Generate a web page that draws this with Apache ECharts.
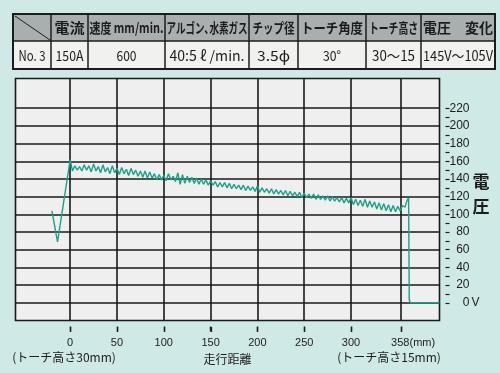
<!DOCTYPE html>
<html><head><meta charset="utf-8">
<script src="https://cdn.jsdelivr.net/npm/echarts@6/dist/echarts.min.js"></script>
<style>html,body{margin:0;padding:0;background:#cfe9e6;}#c{width:500px;height:373px;}</style>
</head><body><div id="c"></div>
<script>
// ---- data ----
const headerLabels = ['', '電流', '速度 mm/min.', 'アルゴン､水素ガス', 'チップ径', 'トーチ角度', 'トーチ高さ', '電圧　変化'];
const rowLabels = ['No. 3', '150A', '600', '40:5 ℓ /min.', '3.5ϕ', '30°', '30〜15', '145V〜105V'];
const xTickValues = [0, 50, 100, 150, 200, 250, 300, 353.5];
const xTickLabels = ['0', '50', '100', '150', '200', '250', '300', '358'];
const yLabelValues = [0, 20, 40, 60, 80, 100, 120, 140, 160, 180, 200, 220];
const yTickValues = [0, 10, 20, 30, 40, 50, 60, 70, 80, 90, 100, 110, 120, 130, 140, 150, 160, 170, 180, 190, 200, 210, 220];
const xAxisName = '走行距離';
const xStartNote = '(トーチ高さ30mm)';
const xEndNote = '(トーチ高さ15mm)';
const yAxisTitle = '電\n圧';
const voltageTrace = [
[-19.5,104],[-13.5,69],[0,162],
[2.5,149],[5,155],[7.5,150],[10,154],[12.5,149],[15,156],[17.5,150],[20,155],[22.5,148],[25,157],[27.5,149],[30,154],[32.5,147],[35,156],[37.5,148],[40,153],[42.5,146],[45,155],[47.5,147],
[50,152],[52.5,145],[55,153],[57.5,146],[60,151],[62.5,144],[65,152],[67.5,145],[70,150],[72.5,143],[75,149],[77.5,142],[80,149],[82.5,141],[85,148],[87.5,141],[90,146],[92.5,139],[95,145],[97.5,139],
[100,144],[102.5,138],[105,146],[107.5,139],[110,143],[112.5,137],[115,147],[117.5,134],[120,145],[122.5,135],[125,143],[127.5,136],[130,142],[132.5,135],[135,141],[137.5,134],[140,140],[142.5,134],[145,139],[147.5,133],
[150,138],[152.5,133],[155,137],[157.5,131],[160,136],[162.5,131],[165,136],[167.5,130],[170,135],[172.5,129],[175,134],[177.5,129],[180,133],[182.5,128],[185,133],[187.5,127],[190,132],[192.5,127],[195,131],[197.5,126],
[200,132],[202.5,125],[205,130],[207.5,125],[210,129],[212.5,124],[215,129],[217.5,123],[220,128],[222.5,123],[225,127],[227.5,122],[230,127],[232.5,121],[235,126],[237.5,121],[240,125],[242.5,120],[245,125],[247.5,119],
[250,124],[252.5,119],[255,123],[257.5,118],[260,123],[262.5,117],[265,122],[267.5,117],[270,121],[272.5,116],[275,121],[277.5,115],[280,120],[282.5,115],[285,119],[287.5,114],[290,119],[292.5,113],[295,118],[297.5,113],
[300,119],[302.5,111],[305,117],[307.5,110],[310,116],[312.5,109],[315,117],[317.5,108],[320,115],[322.5,108],[325,114],[327.5,106],[330,113],[332.5,105],[335,112],[337.5,104],[340,111],[342.5,103],[345,110],[347.5,103],[350,109],[352.5,104],[355,110],[357.5,108],[360,116],[361.5,119],
[362.2,3],[363.5,0],[394.5,0]
];

// ---- layout ----
const X_MIN = -58.4, X_MAX = 394.5, Y_MIN = -20, Y_MAX = 253.6;
const colEdges = [13, 51, 88, 165, 249, 298, 366, 421, 495];
const rowEdges = [14, 41, 69];
const headerWidths = [0, 30, 74, 81, 42, 62, 49, 70];
const rowWidths = [27, 28, 20, 75, 33, 18, 43, 70];
const CJK = '"Noto Sans CJK JP", "Noto Sans", sans-serif';
const ink = '#1c1c1c';

const measureCtx = document.createElement('canvas').getContext('2d');
function fitScale(text, font, target) {
  measureCtx.font = font;
  const w = measureCtx.measureText(text).width;
  return w > 0 ? Math.min(1.15, target / w) : 1;
}

const graphics = [];
graphics.push({type:'rect', shape:{x:colEdges[0], y:rowEdges[0], width:colEdges[8]-colEdges[0], height:rowEdges[1]-rowEdges[0]}, style:{fill:'#a9aeae'}});
graphics.push({type:'rect', shape:{x:colEdges[0], y:rowEdges[1], width:colEdges[8]-colEdges[0], height:rowEdges[2]-rowEdges[1]}, style:{fill:'#f1f2f0'}});
for (let i = 1; i < colEdges.length - 1; i++) {
  graphics.push({type:'line', shape:{x1:colEdges[i], y1:rowEdges[0], x2:colEdges[i], y2:rowEdges[2]}, style:{stroke:ink, lineWidth:1.5}});
}
graphics.push({type:'line', shape:{x1:colEdges[0], y1:rowEdges[1], x2:colEdges[8], y2:rowEdges[1]}, style:{stroke:ink, lineWidth:1.5}});
graphics.push({type:'line', shape:{x1:colEdges[0]+2, y1:rowEdges[0]+2, x2:colEdges[1]-1, y2:rowEdges[1]-1}, style:{stroke:ink, lineWidth:1}});
graphics.push({type:'rect', shape:{x:colEdges[0], y:rowEdges[0], width:colEdges[8]-colEdges[0], height:rowEdges[2]-rowEdges[0]}, style:{fill:null, stroke:ink, lineWidth:2}});
const headFont = 'bold 14px ' + CJK, rowFont = '14px ' + CJK;
for (let i = 0; i < headerLabels.length; i++) {
  const cx = (colEdges[i] + colEdges[i+1]) / 2;
  if (headerLabels[i]) graphics.push({type:'text', x:cx, y:(rowEdges[0]+rowEdges[1])/2+0.5, scaleX:fitScale(headerLabels[i], headFont, headerWidths[i]),
    style:{text:headerLabels[i], x:0, y:0, align:'center', verticalAlign:'middle', font:headFont, fill:ink}});
  graphics.push({type:'text', x:cx, y:(rowEdges[1]+rowEdges[2])/2+0.5, scaleX:fitScale(rowLabels[i], rowFont, rowWidths[i]),
    style:{text:rowLabels[i], x:0, y:0, align:'center', verticalAlign:'middle', font:rowFont, fill:ink}});
}
graphics.push({type:'text', x:64, y:357, style:{text:xStartNote, align:'center', verticalAlign:'middle', font:'12px ' + CJK, fill:ink}});
graphics.push({type:'text', x:389, y:357, style:{text:xEndNote, align:'center', verticalAlign:'middle', font:'12px ' + CJK, fill:ink}});
graphics.push({type:'text', x:481, y:194, style:{text:yAxisTitle, align:'center', verticalAlign:'middle', lineHeight:25, font:'bold 17px ' + CJK, fill:ink}});

const gridLineStyle = {type:'solid', color:'#1a1a1a', width:1.6};
const markData = xTickValues.map(v => ({xAxis:v})).concat(yLabelValues.map(v => ({yAxis:v})));

const chart = echarts.init(document.getElementById('c'), null, {renderer:'canvas'});
chart.setOption({
  animation:false,
  backgroundColor:'#cfe9e6',
  grid:{left:15.5, right:60.5, top:78.5, bottom:52.5, show:true, backgroundColor:'#efefef', borderColor:'#1a1a1a', borderWidth:1.6},
  xAxis:{type:'value', min:X_MIN, max:X_MAX, offset:6, position:'bottom',
    axisLine:{show:false, onZero:false}, splitLine:{show:false},
    axisTick:{show:true, length:5, customValues:xTickValues, lineStyle:{color:ink, width:1.4}},
    axisLabel:{customValues:xTickValues, margin:11, fontFamily:'Liberation Sans', fontSize:11, color:ink,
      formatter:v => { const i = xTickValues.indexOf(v); if (i < 0) return ''; return i === xTickValues.length-1 ? '{s|}' + xTickLabels[i] + '{u|(mm)}' : xTickLabels[i]; },
      rich:{s:{width:24}, u:{fontFamily:'Liberation Sans', fontSize:11, color:ink}}},
    name:xAxisName, nameLocation:'middle', nameGap:24.5, nameTextStyle:{fontFamily:CJK, fontSize:12, color:ink}},
  yAxis:[
    {type:'value', min:Y_MIN, max:Y_MAX, position:'right', offset:6,
      axisLine:{show:false, onZero:false}, splitLine:{show:false},
      axisTick:{show:true, length:4, customValues:yTickValues, lineStyle:{color:ink, width:1.2}},
      axisLabel:{customValues:yLabelValues, align:'right', margin:24, fontFamily:'Liberation Sans', fontSize:12, color:ink}},
    {type:'value', min:Y_MIN, max:Y_MAX, position:'right', offset:6,
      axisLine:{show:false, onZero:false}, splitLine:{show:false}, axisTick:{show:false},
      axisLabel:{customValues:[0], align:'left', margin:26, fontFamily:'Liberation Sans', fontSize:12, color:ink, formatter:() => 'V'}}
  ],
  graphic:graphics,
  series:[
    {type:'line', data:[], silent:true, z:1,
      markLine:{silent:true, z:1, symbol:'none', label:{show:false}, lineStyle:gridLineStyle, emphasis:{disabled:true}, data:markData}},
    {type:'line', data:voltageTrace, showSymbol:false, symbol:'none', z:3,
      lineStyle:{color:'#17a388', width:1.4}}
  ]
});
// x-axis tick marks below the frame, placed through the axis scale
const tickGraphics = xTickValues.map(v => {
  const px = Math.round(chart.convertToPixel({xAxisIndex:0}, v)) + 0.5;
  return {type:'line', shape:{x1:px, y1:327, x2:px, y2:332}, style:{stroke:ink, lineWidth:1.3}};
});
chart.setOption({graphic:graphics.concat(tickGraphics)}, {replaceMerge:['graphic']});
</script></body></html>
